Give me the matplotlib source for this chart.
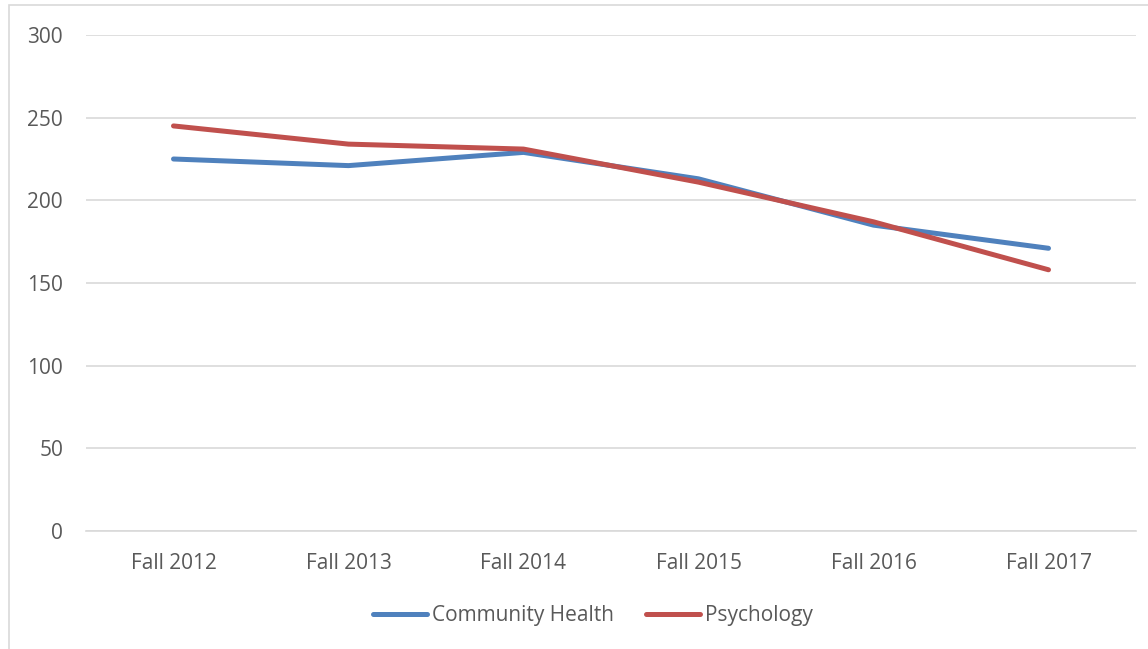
import matplotlib.pyplot as plt
from matplotlib.patches import Rectangle

# data
terms = ["Fall 2012", "Fall 2013", "Fall 2014", "Fall 2015", "Fall 2016", "Fall 2017"]
community_health = [225, 221, 229, 213, 185, 171]
psychology = [245, 234, 231, 211, 187, 158]
y_ticks = [0, 50, 100, 150, 200, 250, 300]

plt.rcParams['font.family'] = ['Open Sans', 'DejaVu Sans']

fig = plt.figure(figsize=(11.48, 6.49), dpi=100)
ax = fig.add_axes([86 / 1148, 1 - 531 / 649, 1050 / 1148, 496 / 649])

x = list(range(len(terms)))
ax.plot(x, community_health, color='#4F81BD', linewidth=3.6,
        solid_capstyle='round', label='Community Health', zorder=3)
ax.plot(x, psychology, color='#C0504D', linewidth=3.6,
        solid_capstyle='round', label='Psychology', zorder=3)

ax.set_xlim(-0.5, len(terms) - 0.5)
ax.set_ylim(0, 300)
ax.set_yticks(y_ticks)
ax.set_xticks(x)
ax.set_xticklabels(terms)

ax.grid(axis='y', color='#D9D9D9', linewidth=1.2)
ax.set_axisbelow(True)
for s in ['top', 'left', 'right']:
    ax.spines[s].set_visible(False)
ax.spines['bottom'].set_color('#D9D9D9')
ax.spines['bottom'].set_linewidth(1.2)
ax.tick_params(length=0, labelsize=15, colors='#595959')
ax.tick_params(axis='x', pad=16)
ax.tick_params(axis='y', pad=16.5)

leg = fig.legend(loc='center', bbox_to_anchor=(593 / 1148, 1 - 616 / 649), ncol=2,
                 frameon=False, fontsize=15, handlelength=2.6,
                 handletextpad=0.25, columnspacing=1.5)
for t in leg.get_texts():
    t.set_color('#595959')

# outer chart border
fig.patches.append(Rectangle((9 / 1148, -0.01), 1.1, 1 - 5 / 649 + 0.01,
                             transform=fig.transFigure, fill=False,
                             edgecolor='#D9D9D9', linewidth=1.2))

fig.savefig('out.png', dpi=100)
